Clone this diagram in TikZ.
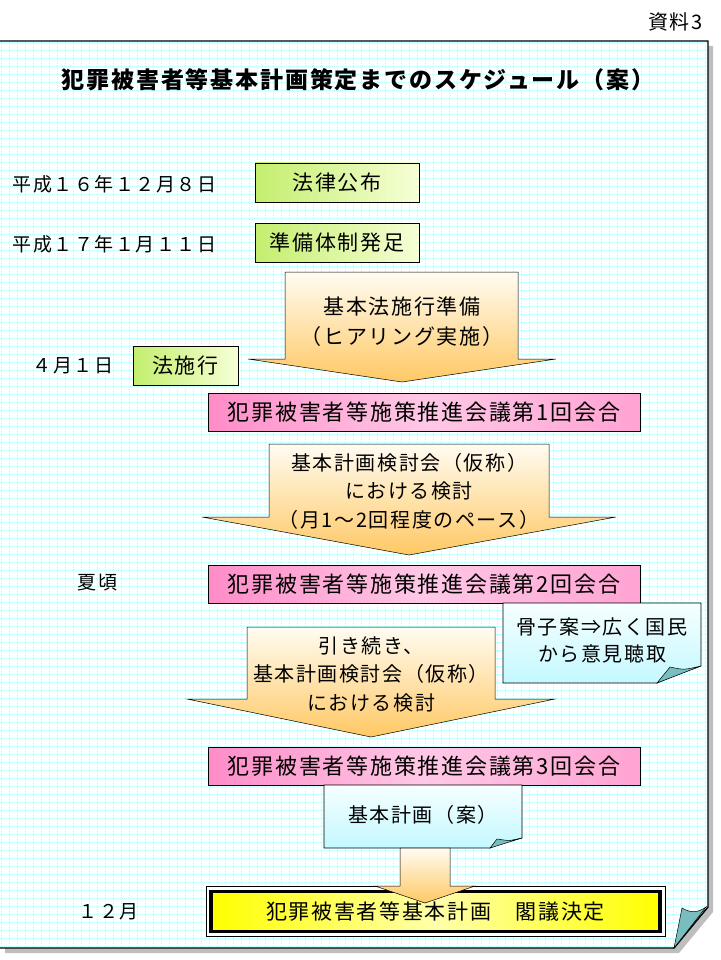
\documentclass[tikz,border=0pt]{standalone}
\usepackage{fontspec}
\setmainfont{Noto Sans CJK JP}[LetterSpace=8]
\usepackage{tikz}
\usepackage{xcolor}
\usetikzlibrary{calc}
\definecolor{gridcyan}{RGB}{185,252,252}
\definecolor{leafgreen}{RGB}{196,238,110}
\definecolor{leafpale}{RGB}{246,255,214}
\definecolor{meetpink}{RGB}{255,140,200}
\definecolor{meetpale}{RGB}{255,200,230}
\definecolor{arrowcream}{RGB}{255,252,242}
\definecolor{arroworange}{RGB}{255,200,100}
\definecolor{notecyan}{RGB}{195,248,255}
\definecolor{notepale}{RGB}{246,255,255}
\definecolor{foldteal}{RGB}{120,190,190}
\definecolor{shadowgray}{RGB}{190,190,190}
\definecolor{decideyellow}{RGB}{255,255,0}
\definecolor{decidepale}{RGB}{255,255,170}

\begin{document}
\begin{tikzpicture}[x=1pt,y=-1pt,
  datelabel/.style={anchor=west,font=\fontsize{19}{24}\selectfont},
  stepbox/.style={draw=black,line width=0.6pt,left color=leafgreen,right color=leafpale,
        minimum height=39pt,inner sep=0pt,font=\fontsize{21}{28}\selectfont},
  meetbox/.style={draw=black,line width=0.6pt,left color=meetpink,right color=meetpink!80,middle color=meetpale,
        minimum width=432pt,minimum height=38pt,inner sep=0pt,font=\fontsize{22}{28}\selectfont},
  flowarrow/.style={draw=black,line width=0.5pt,top color=arrowcream,bottom color=arroworange},
  arrowtext/.style={align=center,font=\fontsize{20}{28.5}\selectfont},
  notebox/.style={draw=black,line width=0.6pt,top color=notepale,bottom color=notecyan},
  foldflap/.style={draw=black,line width=0.5pt,fill=foldteal},
  gridline/.style={gridcyan,line width=0.9pt,dash pattern=on 1pt off 1pt}]
  \useasboundingbox (0,0) rectangle (720,960);

  % 用紙（影・方眼・折り返し）
  \fill[shadowgray] (5,46) -- (713,46) -- (713,912) -- (679,953) -- (5,953) -- cycle;
  \fill[white] (0,41) -- (708,41) -- (708,907) -- (674,948) -- (0,948) -- cycle;
  \begin{scope}
    \clip (0,41) -- (708,41) -- (708,907) -- (674,948) -- (0,948) -- cycle;
    \foreach \gx in {1,9,...,712} \draw[gridline] (\gx,41) -- (\gx,948);
    \foreach \gy in {42,50,...,948} \draw[gridline] (0,\gy) -- (708,\gy);
  \end{scope}
  \draw[line width=1.4pt] (0,41) -- (708,41) -- (708,907) -- (674,948) -- (0,948);
  \path[foldflap] (674,948) -- (682,908) .. controls (692,914) and (699,912) .. (706,907) -- cycle;

  \node[anchor=east,font=\fontsize{20}{24}\selectfont] (docno) at (706,22) {資料3};
  \node[font=\bfseries\fontsize{23}{30}\selectfont] (title) at (358,80)
        {犯罪被害者等基本計画策定までのスケジュール（案）};

  % 日付
  \node[datelabel] (d1) at (9,184) {平成１６年１２月８日};
  \node[datelabel] (d2) at (9,244) {平成１７年１月１１日};
  \node[datelabel] (d3) at (29,366) {４月１日};
  \node[datelabel] (d4) at (74,583) {夏頃};
  \node[datelabel] (d5) at (75,912) {１２月};

  % 初期の段階
  \node[stepbox,minimum width=164pt] (promulgate) at (337,182.5) {法律公布};
  \node[stepbox,minimum width=164pt] (prepare) at (337,242.5) {準備体制発足};
  \node[stepbox,minimum width=105pt] (enforce) at (185.5,366) {法施行};

  % 基本法施行準備
  \path[flowarrow] (285,272) -- (518,272) -- (518,359) -- (556,359) -- (402,382)
        -- (248,359) -- (285,359) -- cycle;
  \node[arrowtext,font=\fontsize{21}{30}\selectfont] (hearing) at (402,322) {基本法施行準備\\（ヒアリング実施）};

  \node[meetbox] (meet1) at (424,412) {犯罪被害者等施策推進会議第1回会合};

  % 検討会
  \path[flowarrow] (269,444) -- (549,444) -- (549,517) -- (616,517) -- (409,555)
        -- (202,517) -- (269,517) -- cycle;
  \node[arrowtext] (study1) at (409,491) {基本計画検討会（仮称）\\における検討\\（月1～2回程度のペース）};

  \node[meetbox] (meet2) at (424,584.5) {犯罪被害者等施策推進会議第2回会合};

  % 骨子案
  \path[notebox] (503,603) -- (701,603) -- (701,666) .. controls (684,672) .. (657,683)
        -- (503,683) -- cycle;
  \path[foldflap] (657,683) -- (670,667) .. controls (684,670) .. (701,666) -- cycle;
  \node[arrowtext,font=\fontsize{20}{27}\selectfont] (outline) at (602,640) {骨子案⇒広く国民\\から意見聴取};

  % 引き続き検討
  \path[flowarrow] (247,627) -- (495,627) -- (495,699) -- (555,699) -- (371,737)
        -- (187,699) -- (247,699) -- cycle;
  \node[arrowtext] (study2) at (371,674) {引き続き、\\基本計画検討会（仮称）\\における検討};

  \node[meetbox] (meet3) at (424,766.5) {犯罪被害者等施策推進会議第3回会合};

  % 基本計画（案）
  \path[notebox] (324,785) -- (522,785) -- (522,838) .. controls (505,842) .. (490,848)
        -- (324,848) -- cycle;
  \path[foldflap] (490,848) -- (497,839) .. controls (510,841) .. (522,838) -- cycle;
  \node[arrowtext] (draftplan) at (423,815) {基本計画（案）};

  % 閣議決定
  \node[draw=black,line width=0.8pt,fill=white,minimum width=459pt,minimum height=50pt] (decideframe) at (435.5,911.5) {};
  \node[draw=black,line width=3.5pt,left color=decideyellow,right color=decideyellow,middle color=decidepale,
        minimum width=449pt,minimum height=40pt,inner sep=0pt,font=\fontsize{21}{28}\selectfont]
        (decide) at (decideframe.center) {犯罪被害者等基本計画　閣議決定};

  \path[flowarrow] (400,848) -- (450,848) -- (450,886) -- (475,886) -- (425,903)
        -- (375,886) -- (400,886) -- cycle;
\end{tikzpicture}
\end{document}
